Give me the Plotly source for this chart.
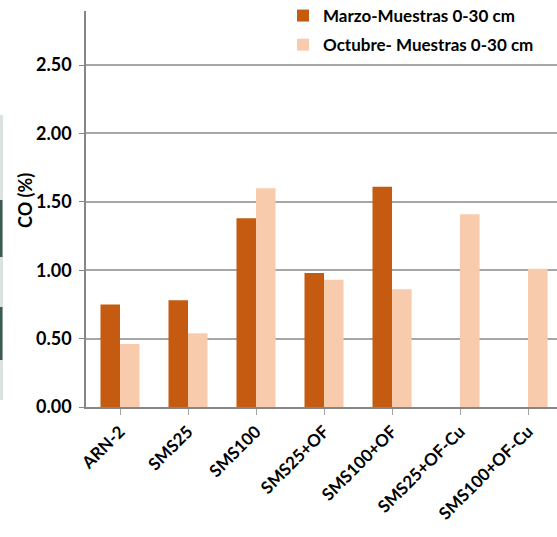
import plotly.graph_objects as go

# Carbono orgánico (CO, %) por tratamiento, muestras 0-30 cm
categorias = ["ARN-2", "SMS25", "SMS100", "SMS25+OF", "SMS100+OF", "SMS25+OF-Cu", "SMS100+OF-Cu"]
marzo = [0.75, 0.78, 1.38, 0.98, 1.61, None, None]
octubre = [0.46, 0.54, 1.60, 0.93, 0.86, 1.41, 1.01]
serie_marzo = "Marzo-Muestras 0-30 cm"
serie_octubre = "Octubre- Muestras 0-30 cm"
y_ticks = [0, 0.5, 1.0, 1.5, 2.0, 2.5]

FONT = "Lato, Open Sans, sans-serif"
W, H = 557, 537
L, T, B = 86, 11, 130
plot_h = H - T - B
plot_w = W - L


def fnt(size):
    return dict(family=FONT, size=size, color="black", weight="bold")


fig = go.Figure()
fig.add_trace(go.Bar(x=categorias, y=marzo, name=serie_marzo, legendgroup="m",
                     marker=dict(color="#C55A11", line=dict(width=0))))
fig.add_trace(go.Bar(x=categorias, y=octubre, name=serie_octubre, legendgroup="o",
                     marker=dict(color="#F8CBAD", line=dict(width=0))))


def px_x(p):
    return (p - L) / plot_w


def px_y(p):
    return (H - B - p) / plot_h


# thin slide-edge strip on the far left
shapes = [
    dict(type="rect", xref="paper", yref="paper", x0=px_x(0), x1=px_x(3),
         y0=px_y(400), y1=px_y(115), fillcolor="#DCE3DF", line=dict(width=0), layer="above"),
    dict(type="rect", xref="paper", yref="paper", x0=px_x(0), x1=px_x(2.5),
         y0=px_y(257), y1=px_y(200), fillcolor="#3E5B50", line=dict(width=0), layer="above"),
    dict(type="rect", xref="paper", yref="paper", x0=px_x(0), x1=px_x(2.5),
         y0=px_y(360), y1=px_y(307), fillcolor="#3E5B50", line=dict(width=0), layer="above"),
]

# y-axis title placed as a rotated annotation in the left margin
annotations = [
    dict(text="CO (%)", xref="paper", yref="paper", x=px_x(25), y=px_y(201),
         xanchor="center", yanchor="middle", textangle=-90, showarrow=False, font=fnt(18)),
]

fig.update_layout(
    width=W, height=H,
    margin=dict(l=L, r=0, t=T, b=B, pad=0, autoexpand=False),
    paper_bgcolor="white", plot_bgcolor="white",
    barmode="group", bargap=0.426, bargroupgap=0,
    font=fnt(17),
    shapes=shapes,
    annotations=annotations,
    legend=dict(x=px_x(283), y=px_y(-2), xanchor="left", yanchor="top",
                bgcolor="rgba(0,0,0,0)", font=fnt(17),
                tracegroupgap=4, traceorder="grouped"),
    xaxis=dict(range=[-0.5, 6.426], showline=True, linecolor="#868686", linewidth=2,
               ticks="outside", ticklen=6, tickcolor="#A6A6A6", tickwidth=1,
               tickangle=-45, showgrid=False, tickfont=fnt(17)),
    yaxis=dict(range=[0, 2.895], tickvals=y_ticks, tickformat=".2f",
               showline=True, linecolor="#868686", linewidth=1.5,
               ticks="outside", ticklen=5, tickcolor="#868686",
               showgrid=True, gridcolor="#A6A6A6", gridwidth=2, zeroline=False,
               tickfont=fnt(18), ticklabelstandoff=4),
)

fig.write_html("out.html")
